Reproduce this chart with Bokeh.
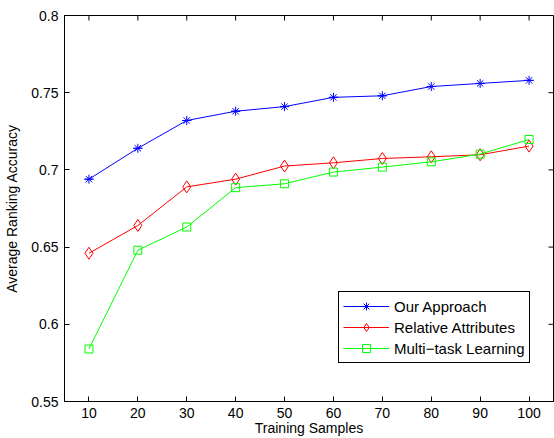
from bokeh.plotting import figure
from bokeh.models import (LinearAxis, FixedTicker, Legend, LegendItem,
                          CustomJSTickFormatter, Range1d)
from bokeh.embed import file_html
from bokeh.resources import INLINE

# ---- data ----
samples = [10, 20, 30, 40, 50, 60, 70, 80, 90, 100]
our_approach = [0.694, 0.714, 0.732, 0.738, 0.741, 0.747, 0.748, 0.754, 0.756, 0.758]
relative_attributes = [0.646, 0.664, 0.689, 0.694, 0.7025, 0.7046, 0.7074, 0.7085, 0.7098, 0.7154]
multi_task = [0.584, 0.648, 0.663, 0.6885, 0.691, 0.6986, 0.7018, 0.7052, 0.7102, 0.7197]
x_ticks = [10, 20, 30, 40, 50, 60, 70, 80, 90, 100]
y_ticks = [0.55, 0.6, 0.65, 0.7, 0.75, 0.8]
x_min, x_max = 5, 105
y_min, y_max = 0.55, 0.8

FONT = "Liberation Sans"
W, H = 554, 438
MB_L, MB_R, MB_T, MB_B = 64, 1, 15, 30

p = figure(width=W, height=H, output_backend="svg", toolbar_location=None,
           x_range=Range1d(x_min, x_max), y_range=Range1d(y_min, y_max),
           min_border_left=MB_L, min_border_right=MB_R, min_border_top=MB_T,
           min_border_bottom=MB_B, x_axis_location=None, y_axis_location=None)
p.xgrid.visible = False
p.ygrid.visible = False
p.outline_line_color = "black"
p.outline_line_alpha = 1
p.outline_line_width = 1
p.background_fill_color = "white"
p.border_fill_color = "white"

fmt = CustomJSTickFormatter(code="var s = tick.toFixed(2); if (s.endsWith('0')) s = s.slice(0, -1); return s;")

def style_axis(ax):
    ax.major_tick_in = 5
    ax.major_tick_out = 0
    ax.minor_tick_in = 0
    ax.minor_tick_out = 0
    ax.major_tick_line_color = "black"
    ax.axis_line_color = "black"
    ax.major_label_text_font = FONT
    ax.major_label_text_font_size = "14px"
    ax.major_label_text_color = "black"
    ax.axis_label_text_font = FONT
    ax.axis_label_text_font_size = "14px"
    ax.axis_label_text_font_style = "normal"
    ax.axis_label_text_color = "black"

bottom = LinearAxis(ticker=FixedTicker(ticks=x_ticks), axis_label="Training Samples")
style_axis(bottom)
bottom.major_label_standoff = 6
bottom.axis_label_standoff = -1
p.add_layout(bottom, "below")

left = LinearAxis(ticker=FixedTicker(ticks=y_ticks), formatter=fmt,
                  axis_label="Average Ranking Accuracy")
style_axis(left)
left.major_label_standoff = 6
left.axis_label_standoff = 8
p.add_layout(left, "left")

# approximate frame size (bottom axis takes about 36 px)
frame_w = W - MB_L - MB_R
frame_h = H - MB_T - 36
px_x = (x_max - x_min) / frame_w   # data units per pixel
px_y = (y_max - y_min) / frame_h

# inward ticks on the top and right edges of the box
p.segment(x0=x_ticks, y0=[y_max] * len(x_ticks), x1=x_ticks, y1=[y_max - 5 * px_y] * len(x_ticks),
          line_color="black", line_width=1)
p.segment(x0=[x_max] * len(y_ticks), y0=y_ticks, x1=[x_max - 5 * px_x] * len(y_ticks), y1=y_ticks,
          line_color="black", line_width=1)

# ---- series ----
l1 = p.line(samples, our_approach, line_color="#0000ff", line_width=1)
m1a = p.scatter(samples, our_approach, marker="asterisk", size=9, line_color="#0000ff", line_width=1)
m1b = p.scatter(samples, our_approach, marker="dash", size=9, line_color="#0000ff", line_width=1)

l2 = p.line(samples, relative_attributes, line_color="#ff0000", line_width=1)
m2 = p.scatter(samples, relative_attributes, marker="diamond", size=12, line_color="#ff0000",
               fill_color=None, line_width=1)

l3 = p.line(samples, multi_task, line_color="#00ff00", line_width=1)
m3 = p.scatter(samples, multi_task, marker="square", size=8, line_color="#00ff00",
               fill_color=None, line_width=1)

legend = Legend(items=[
    LegendItem(label="Our Approach", renderers=[l1, m1a, m1b]),
    LegendItem(label="Relative Attributes", renderers=[l2, m2]),
    LegendItem(label="Multi\u2212task Learning", renderers=[l3, m3]),
], location=(274, 38))
legend.border_line_color = "black"
legend.border_line_width = 1
legend.border_line_alpha = 1
legend.background_fill_color = "white"
legend.background_fill_alpha = 1
legend.label_text_font = FONT
legend.label_text_font_size = "15px"
legend.label_text_color = "black"
legend.glyph_width = 46
legend.glyph_height = 20
legend.label_height = 20
legend.spacing = 1
legend.padding = 4
legend.label_standoff = 5
legend.margin = 0
p.add_layout(legend)

open("out.html", "w").write(file_html(p, INLINE))
